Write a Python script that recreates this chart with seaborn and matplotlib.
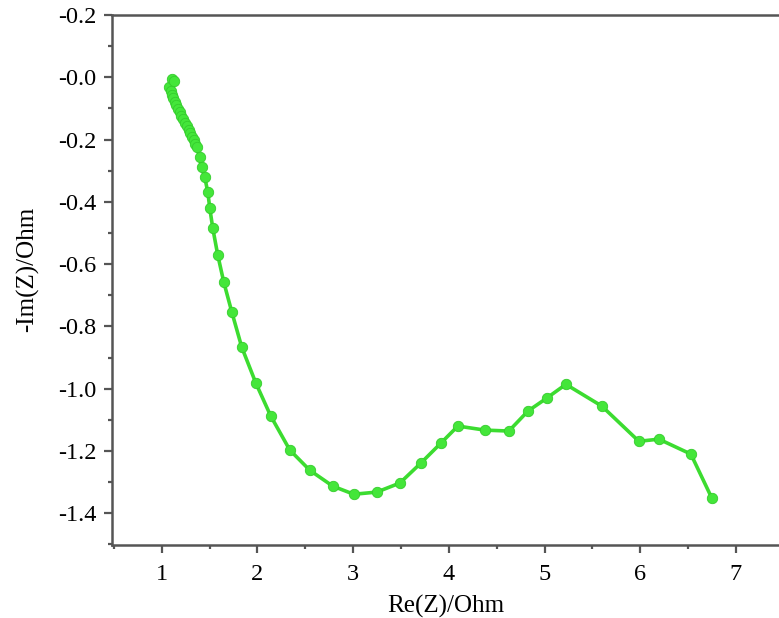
import matplotlib
matplotlib.use("Agg")
import matplotlib.pyplot as plt
import numpy as np
import pandas as pd
import seaborn as sns
from matplotlib.ticker import MultipleLocator, FixedLocator

sns.set_theme(style="white")
plt.rcParams['font.family'] = ['Liberation Serif', 'DejaVu Serif']

# Nyquist data
re_z = [1.08, 1.11, 1.13, 1.10, 1.105, 1.12, 1.135, 1.152, 1.17, 1.188, 1.206, 1.225,
        1.243, 1.261, 1.28, 1.298, 1.316, 1.334, 1.35, 1.366,
        1.397, 1.418, 1.449, 1.481, 1.502, 1.533, 1.585, 1.648, 1.732, 1.836, 1.983,
        2.139, 2.338, 2.547, 2.787, 3.007, 3.247, 3.488, 3.707, 3.916, 4.094,
        4.376, 4.627, 4.826, 5.024, 5.223, 5.599, 5.986, 6.195, 6.529, 6.749]
im_z = [-0.030, -0.005, -0.012, -0.045, -0.058, -0.068, -0.079, -0.090, -0.101, -0.112, -0.124, -0.135,
        -0.146, -0.157, -0.169, -0.180, -0.191, -0.202, -0.213, -0.225,
        -0.257, -0.289, -0.321, -0.369, -0.421, -0.485, -0.571, -0.658, -0.754, -0.867, -0.982,
        -1.088, -1.197, -1.262, -1.313, -1.339, -1.332, -1.303, -1.239, -1.175, -1.120,
        -1.133, -1.136, -1.072, -1.030, -0.986, -1.056, -1.169, -1.162, -1.210, -1.352]

ytick_vals = [0.2, 0.0, -0.2, -0.4, -0.6, -0.8, -1.0, -1.2, -1.4]
ytick_labels = ["-0.2", "-0.0", "-0.2", "-0.4", "-0.6", "-0.8", "-1.0", "-1.2", "-1.4"]
xtick_vals = [1, 2, 3, 4, 5, 6, 7]

df = pd.DataFrame({'re': re_z, 'im': im_z})

fig = plt.figure(figsize=(7.79, 6.18), dpi=100)
ax = fig.add_axes([0.1438, 0.1181, 0.8562, 0.8576])

sns.lineplot(data=df, x='re', y='im', sort=False, ax=ax, color='#3cdc30',
             linewidth=2.6, marker='o', markersize=7.5,
             markerfacecolor='#44e63a', markeredgecolor='#34cc2c', markeredgewidth=0.6)

ax.set_xlim(0.48, 7.45)
ax.set_ylim(-1.502, 0.2)

ax.xaxis.set_major_locator(FixedLocator(xtick_vals))
ax.xaxis.set_minor_locator(MultipleLocator(0.5))
ax.yaxis.set_major_locator(FixedLocator(ytick_vals))
ax.set_yticklabels(ytick_labels)
ax.yaxis.set_minor_locator(MultipleLocator(0.1))

ax.tick_params(which='major', direction='out', length=6, width=1.6, color='#555555',
               labelsize=17.5, labelcolor='black', pad=5, bottom=True, left=True)
ax.tick_params(which='minor', direction='out', length=3, width=1.6, color='#555555',
               bottom=True, left=True)
ax.tick_params(axis='x', pad=8)

for side in ['left', 'bottom', 'top']:
    ax.spines[side].set_color('#555555')
    ax.spines[side].set_linewidth(1.8)
ax.spines['right'].set_visible(False)

ax.set_xlabel('Re(Z)/Ohm', fontsize=18, color='black', labelpad=7)
ax.set_ylabel('-Im(Z)/Ohm', fontsize=18, color='black', labelpad=14)
ax.yaxis.set_label_coords(-0.11, 0.52)

fig.savefig('out.png', dpi=100)
